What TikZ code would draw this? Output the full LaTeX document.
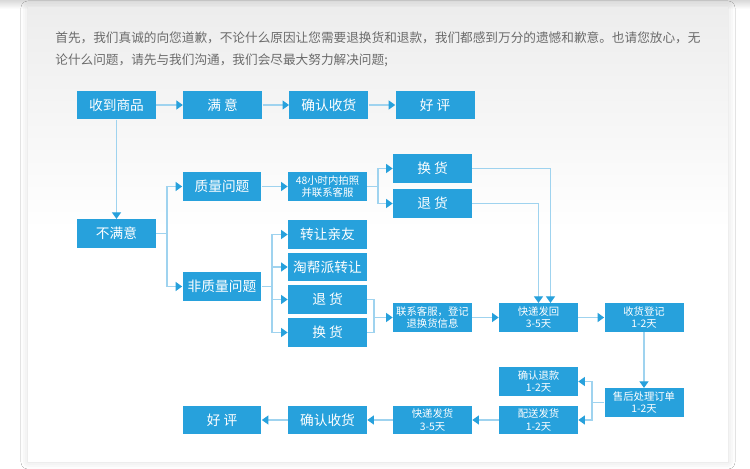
\documentclass[tikz,border=0pt]{standalone}
\usepackage{fontspec}
\setmainfont{Noto Sans CJK SC}
\usetikzlibrary{positioning,arrows.meta,calc,shadows.blur}
\definecolor{SVCblue}{HTML}{27A1DC}
\definecolor{SVCline}{HTML}{9FD3EF}
\definecolor{SVCtext}{HTML}{6B6B6B}
\definecolor{SVCpanel}{HTML}{EDEDED}
\tikzset{
  stepbox/.style={fill=SVCblue, text=white, minimum width=1.58cm, minimum height=0.57cm, inner sep=0pt, align=center, font=\fontsize{7.8}{9}\selectfont},
  smallbox/.style={stepbox, font=\fontsize{5.9}{7}\selectfont},
  link/.style={draw=SVCline, line width=0.6pt},
  arr/.style={link, -{Triangle[length=1.3mm, width=1.8mm, color=SVCblue]}}
}

\begin{document}
\begin{tikzpicture}[x=0.02cm, y=-0.02cm, node distance=0.53cm]
\useasboundingbox (0,0) rectangle (750,469);
% page and panel
\fill[white] (0,0) rectangle (750,469);
\shade[top color=gray!30, bottom color=white] (0,0) rectangle (750,9);
\fill[white, blur shadow={shadow xshift=0pt, shadow yshift=0pt, shadow blur radius=4pt, shadow opacity=14}] (28,8) rectangle (728,462);
\shade[top color=SVCpanel, bottom color=white] (28,8) rectangle (728,230);

\node[anchor=north west, align=left, inner sep=0pt, text=SVCtext, font=\fontsize{7.2}{12.7}\selectfont] (intro) at (55,31)
  {首先，我们真诚的向您道歉，不论什么原因让您需要退换货和退款，我们都感到万分的遗憾和歉意。也请您放心，无\\论什么问题，请先与我们沟通，我们会尽最大努力解决问题;};

% first row
\node[stepbox] (get) at (116.5,105) {收到商品};
\node[stepbox, right=of get] (sat) {满 意};
\node[stepbox, right=of sat] (conf) {确认收货};
\node[stepbox, right=of conf] (good) {好 评};

% not satisfied
\node[stepbox] (unsat) at (116.5,233.5) {不满意};
\node[stepbox] (qual) at (222,186.5) {质量问题};
\node[stepbox] (nqual) at (222,286.5) {非质量问题};
\node[smallbox] (photo) at (327.5,186.5) {48小时内拍照\\并联系客服};
\node[stepbox] (exa) at (432.5,168.5) {换 货};
\node[stepbox] (reta) at (432.5,203.5) {退 货};
\node[stepbox] (friend) at (327.5,234.5) {转让亲友};
\node[stepbox] (taobang) at (327.5,267) {淘帮派转让};
\node[stepbox] (retb) at (327.5,299.5) {退 货};
\node[stepbox] (exb) at (327.5,332.5) {换 货};
\node[smallbox] (contact) at (432.5,317.5) {联系客服，登记\\退换货信息};
\node[smallbox] (back) at (538.5,317.5) {快递发回\\3-5天};
\node[smallbox] (reg) at (644,317.5) {收货登记\\1-2天};
\node[smallbox] (proc) at (644,402.5) {售后处理订单\\1-2天};
\node[smallbox] (refund) at (538.5,381.5) {确认退款\\1-2天};
\node[smallbox] (ship) at (538.5,420) {配送发货\\1-2天};
\node[smallbox] (expr) at (432.5,420) {快递发货\\3-5天};
\node[stepbox] (confb) at (327.5,420) {确认收货};
\node[stepbox] (goodb) at (222,420) {好 评};

% junctions
\coordinate (ja) at (167,233.5);
\coordinate (jb) at (378,186.5);
\coordinate (jc) at (272,286.5);
\coordinate (jd) at (374,317.5);
\coordinate (je) at (592,402.5);

\draw[arr] (get) -- (sat);
\draw[arr] (sat) -- (conf);
\draw[arr] (conf) -- (good);
\draw[arr] (get) -- (unsat);

\draw[link] (unsat.east) -- (ja);
\draw[arr] (ja) |- (qual.west);
\draw[arr] (ja) |- (nqual.west);
\draw[arr] (qual) -- (photo);

\draw[link] (photo.east) -- (jb);
\draw[arr] (jb) |- (exa.west);
\draw[arr] (jb) |- (reta.west);
\draw[arr] (exa.east) -| ($(back.north)+(12,0)$);
\draw[arr] (reta.east) -| (back.north);

\draw[link] (nqual.east) -- (jc);
\foreach \n in {friend,taobang,retb,exb}
  \draw[arr] (jc) |- (\n.west);
\draw[link] (retb.east) -| (jd);
\draw[link] (exb.east) -| (jd);
\draw[arr] (jd) -- (contact.west);
\draw[arr] (contact) -- (back);
\draw[arr] (back) -- (reg);
\draw[arr] (reg) -- (proc);

\draw[link] (proc.west) -- (je);
\draw[arr] (je) |- (refund.east);
\draw[arr] (je) |- (ship.east);
\draw[arr] (ship) -- (expr);
\draw[arr] (expr) -- (confb);
\draw[arr] (confb) -- (goodb);
\end{tikzpicture}
\end{document}
